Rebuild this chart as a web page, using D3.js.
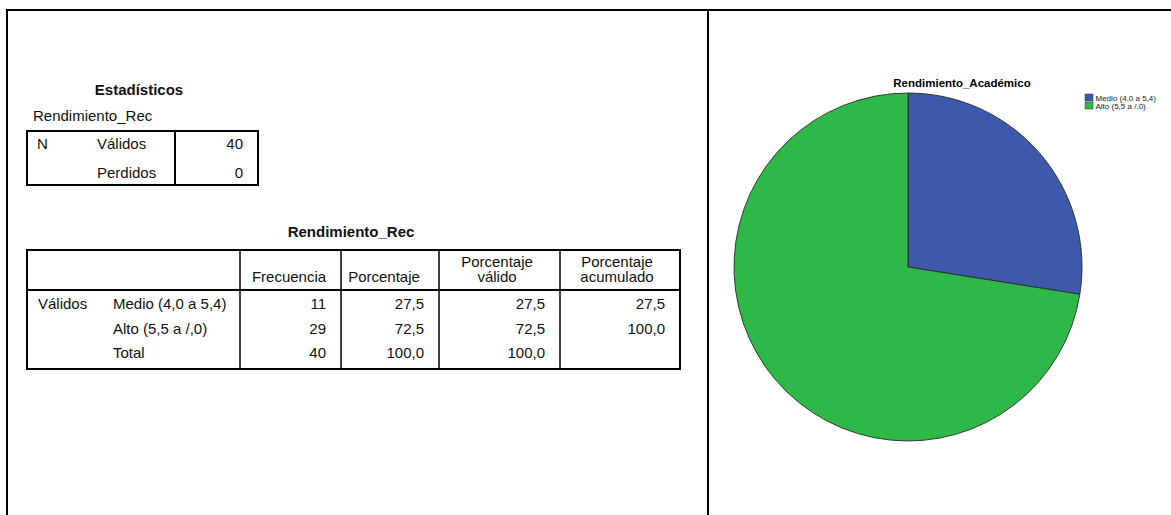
<!DOCTYPE html>
<html>
<head>
<meta charset="utf-8">
<script src="https://cdn.jsdelivr.net/npm/d3@7"></script>
<style>
  html, body { margin: 0; padding: 0; background: #fff; }
  svg { display: block; font-family: "Liberation Sans", Arial, sans-serif; }
</style>
</head>
<body>
<svg id="page" width="1171" height="515"></svg>
<script>
// Frequency output for Rendimiento_Rec
const statLabels = ["Válidos", "Perdidos"];
const statValues = [40, 0];

const categories = ["Medio (4,0 a 5,4)", "Alto (5,5 a /,0)"];
const frequencies = [11, 29];
const percents = [27.5, 72.5];
const validPercents = [27.5, 72.5];
const cumulativePercents = [27.5, 100.0];
const totalRow = { label: "Total", freq: 40, pct: 100.0, valid: 100.0 };

const headerLines = [["Frecuencia"], ["Porcentaje"], ["Porcentaje", "válido"], ["Porcentaje", "acumulado"]];
const sliceColors = ["#3e58ac", "#2eb848"];

const fmtPct = v => v.toFixed(1).replace(".", ",");

const svg = d3.select("#page");

// Outer frame of the two panels
svg.append("line").attr("x1", 7).attr("x2", 1171).attr("y1", 10).attr("y2", 10)
  .attr("stroke", "#000").attr("stroke-width", 2);
svg.append("line").attr("x1", 7).attr("x2", 7).attr("y1", 9).attr("y2", 515)
  .attr("stroke", "#000").attr("stroke-width", 2);
svg.append("line").attr("x1", 708).attr("x2", 708).attr("y1", 9).attr("y2", 515)
  .attr("stroke", "#000").attr("stroke-width", 2);

const txt = (x, y, s, opts = {}) => svg.append("text")
  .attr("x", x).attr("y", y).text(s)
  .attr("font-size", opts.size || 15)
  .attr("font-weight", opts.bold ? "bold" : null)
  .attr("text-anchor", opts.anchor || "start")
  .attr("fill", opts.fill || "#111");

// ---- Estadísticos table ----
txt(139, 95, "Estadísticos", { bold: true, anchor: "middle" });
txt(33, 121, "Rendimiento_Rec");

const t1 = { x0: 27, x1: 258, y0: 131, y1: 185, div: 175 };
svg.append("rect").attr("x", t1.x0).attr("y", t1.y0)
  .attr("width", t1.x1 - t1.x0).attr("height", t1.y1 - t1.y0)
  .attr("fill", "none").attr("stroke", "#000").attr("stroke-width", 2);
svg.append("line").attr("x1", t1.div).attr("x2", t1.div).attr("y1", t1.y0).attr("y2", t1.y1)
  .attr("stroke", "#000").attr("stroke-width", 2);

const statY = d3.scalePoint().domain(statLabels).range([149, 178]);
txt(37, statY(statLabels[0]), "N");
statLabels.forEach((s, i) => {
  txt(97, statY(s), s);
  txt(243, statY(s), String(statValues[i]), { anchor: "end" });
});

// ---- Frequency table ----
txt(351, 237, "Rendimiento_Rec", { bold: true, anchor: "middle" });

const colEdges = [27, 240, 341, 439, 560, 680];
const t2 = { y0: 250, yHead: 290, y1: 369 };

svg.append("rect").attr("x", colEdges[0]).attr("y", t2.y0)
  .attr("width", colEdges[5] - colEdges[0]).attr("height", t2.y1 - t2.y0)
  .attr("fill", "none").attr("stroke", "#000").attr("stroke-width", 2);
svg.append("line").attr("x1", colEdges[0]).attr("x2", colEdges[5])
  .attr("y1", t2.yHead).attr("y2", t2.yHead).attr("stroke", "#000").attr("stroke-width", 2);
colEdges.slice(1, 5).forEach(x => {
  svg.append("line").attr("x1", x).attr("x2", x).attr("y1", t2.y0).attr("y2", t2.y1)
    .attr("stroke", "#000").attr("stroke-width", 1.5);
});

const headerCenters = [289, 384, 497, 617];
headerLines.forEach((lines, i) => {
  const base = 282;
  lines.forEach((l, j) => {
    txt(headerCenters[i], base - (lines.length - 1 - j) * 15, l, { anchor: "middle" });
  });
});

const rowNames = categories.concat([totalRow.label]);
const rowY = d3.scalePoint().domain(rowNames).range([309, 358]);
const numRight = colEdges.slice(2).map(x => x - 15);

txt(38, rowY(rowNames[0]), "Válidos");
categories.forEach((c, i) => {
  const y = rowY(c);
  txt(113, y, c);
  txt(numRight[0], y, String(frequencies[i]), { anchor: "end" });
  txt(numRight[1], y, fmtPct(percents[i]), { anchor: "end" });
  txt(numRight[2], y, fmtPct(validPercents[i]), { anchor: "end" });
  txt(numRight[3], y, fmtPct(cumulativePercents[i]), { anchor: "end" });
});
{
  const y = rowY(totalRow.label);
  txt(113, y, totalRow.label);
  txt(numRight[0], y, String(totalRow.freq), { anchor: "end" });
  txt(numRight[1], y, fmtPct(totalRow.pct), { anchor: "end" });
  txt(numRight[2], y, fmtPct(totalRow.valid), { anchor: "end" });
}

// ---- Pie chart ----
const cx = 908, cy = 267, radius = 174;
txt(962, 87, "Rendimiento_Académico", { bold: true, anchor: "middle", size: 11.5, fill: "#000" });

const pie = d3.pie().sort(null).value(d => d.value);
const arcs = pie(categories.map((c, i) => ({ name: c, value: frequencies[i] })));
const arc = d3.arc().innerRadius(0).outerRadius(radius);
const color = d3.scaleOrdinal().domain(categories).range(sliceColors);

svg.append("g").attr("transform", `translate(${cx},${cy})`)
  .selectAll("path").data(arcs).join("path")
  .attr("d", arc)
  .attr("fill", d => color(d.data.name))
  .attr("stroke", "#2a2a2a").attr("stroke-width", 0.9);

// Legend
const legY = d3.scalePoint().domain(categories).range([94, 102]);
const leg = svg.append("g");
categories.forEach(c => {
  leg.append("rect").attr("x", 1085).attr("y", legY(c))
    .attr("width", 8).attr("height", 7)
    .attr("fill", color(c)).attr("stroke", "#333").attr("stroke-width", 0.5);
  leg.append("text").attr("x", 1095.5).attr("y", legY(c) + 6.5).text(c)
    .attr("font-size", 8).attr("fill", "#222");
});
</script>
</body>
</html>
